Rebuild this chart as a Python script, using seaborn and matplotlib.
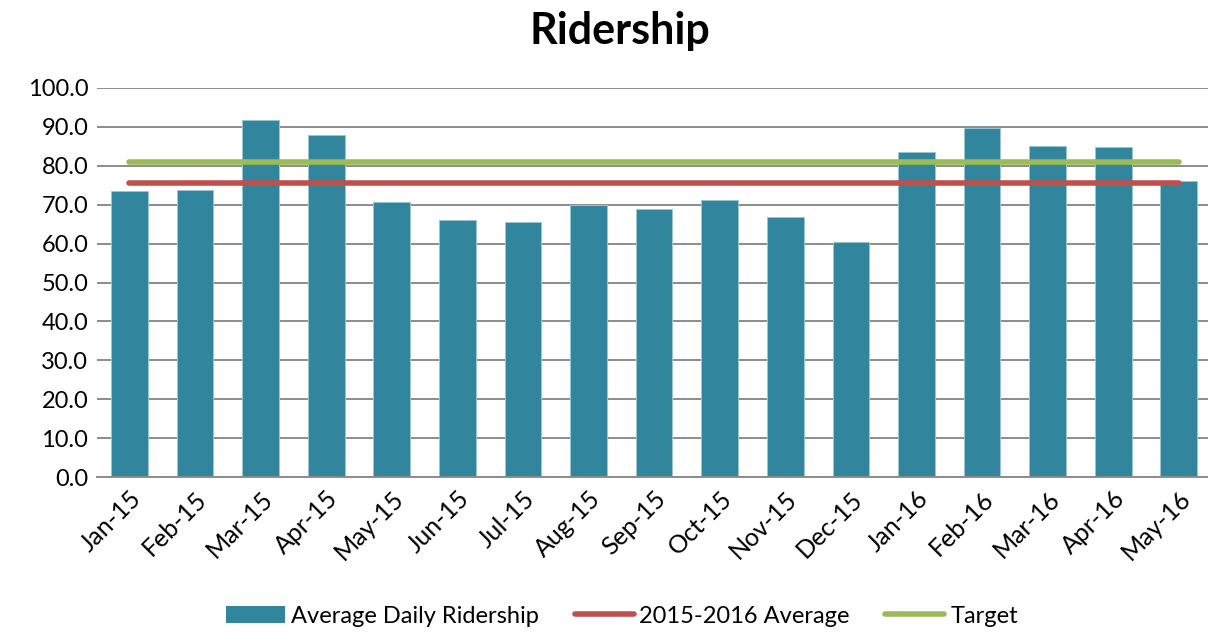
import numpy as np
import pandas as pd
import seaborn as sns
import matplotlib.pyplot as plt
from matplotlib.patches import Patch
from matplotlib.lines import Line2D

months = ['Jan-15', 'Feb-15', 'Mar-15', 'Apr-15', 'May-15', 'Jun-15', 'Jul-15', 'Aug-15',
          'Sep-15', 'Oct-15', 'Nov-15', 'Dec-15', 'Jan-16', 'Feb-16', 'Mar-16', 'Apr-16', 'May-16']
ridership = [73.5, 73.7, 91.7, 87.9, 70.8, 66.0, 65.5, 70.0,
             68.8, 71.1, 66.7, 60.4, 83.4, 89.6, 85.0, 84.9, 76.1]
period_avg = [75.6] * len(months)
target = [81.0] * len(months)

bar_color = '#31859C'
avg_color = '#C0504D'
target_color = '#9BBB59'

sns.set_style('white')
plt.rcParams['font.family'] = ['Lato', 'DejaVu Sans']
plt.rcParams['text.color'] = 'black'
plt.rcParams['xtick.color'] = 'black'
plt.rcParams['ytick.color'] = 'black'

df = pd.DataFrame({'Month': months, 'Ridership': ridership})

fig = plt.figure(figsize=(12.08, 6.32), dpi=100)
ax = fig.add_axes([0.080, 0.245, 0.923, 0.616])

# gridlines first so bars sit on top
ax.set_axisbelow(True)
ax.yaxis.grid(True, color='#8c8c8c', linewidth=1.4)

sns.barplot(data=df, x='Month', y='Ridership', color=bar_color, saturation=1,
            width=0.56, edgecolor='#9cc6d2', linewidth=0.7, ax=ax)

x = np.arange(len(months))
ax.plot(x, period_avg, color=avg_color, lw=4, solid_capstyle='round')
ax.plot(x, target, color=target_color, lw=4, solid_capstyle='round')

ax.set_ylim(0, 100)
ax.set_yticks(np.arange(0, 101, 10))
ax.set_yticklabels([f'{v:.1f}' for v in np.arange(0, 101, 10)], fontsize=17)
ax.set_xlim(-0.5, len(months) - 0.5)
ax.set_xticks(x)
ax.set_xticklabels(months, rotation=45, ha='right', rotation_mode='anchor', fontsize=18)
ax.tick_params(axis='y', length=0, pad=6)
ax.tick_params(axis='x', length=0, pad=7)
ax.set_xlabel('')
ax.set_ylabel('')

for s in ['top', 'right', 'left']:
    ax.spines[s].set_visible(False)
ax.spines['bottom'].set_color('#8c8c8c')
ax.spines['bottom'].set_linewidth(1.4)

fig.suptitle('Ridership', x=0.513, fontsize=31, fontweight='bold', y=0.983)

handles = [Patch(facecolor=bar_color, edgecolor='none', label='Average Daily Ridership'),
           Line2D([0], [0], color=avg_color, lw=4, label='2015-2016 Average'),
           Line2D([0], [0], color=target_color, lw=4, label='Target')]
fig.legend(handles=handles, loc='center', bbox_to_anchor=(0.515, 0.025), ncol=3,
           frameon=False, fontsize=17, handlelength=2.5, columnspacing=1.5, handletextpad=0.25)

fig.savefig('out.png', dpi=100)
